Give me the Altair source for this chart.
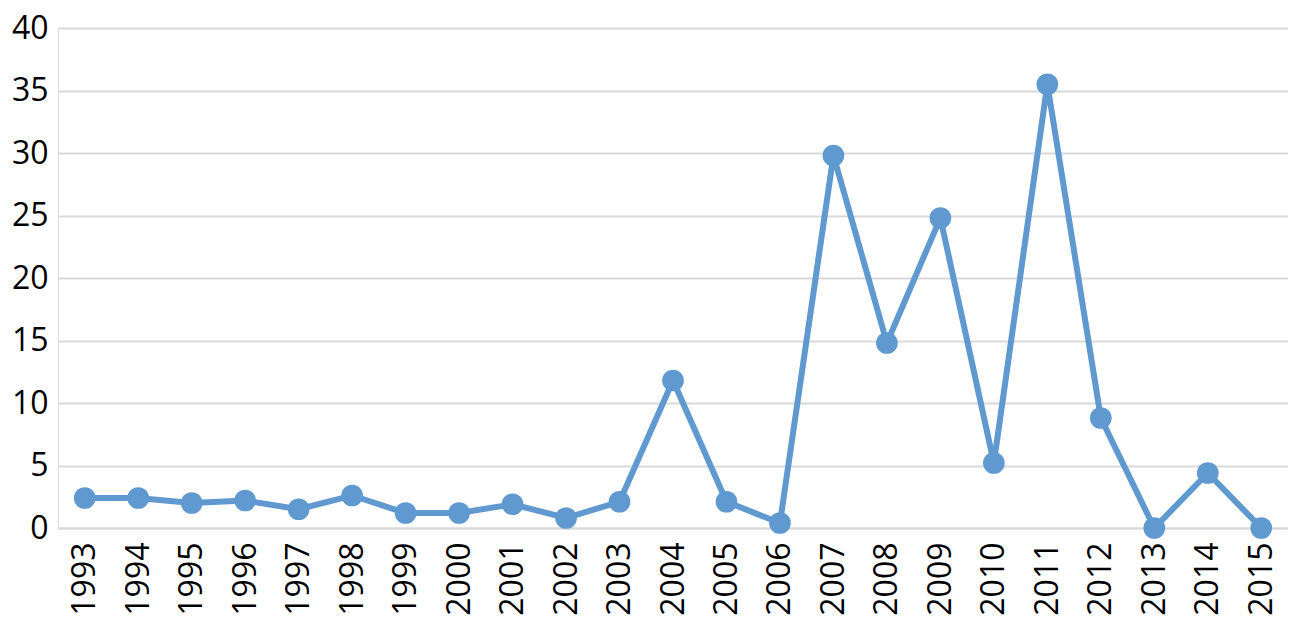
import altair as alt
import pandas as pd

years = [str(y) for y in range(1993, 2016)]
values = [2.4, 2.4, 2.0, 2.2, 1.5, 2.6, 1.2, 1.2, 1.9, 0.8, 2.1, 11.8,
          2.1, 0.4, 29.8, 14.8, 24.8, 5.2, 35.5, 8.8, 0.0, 4.4, 0.0]
y_ticks = [0, 5, 10, 15, 20, 25, 30, 35, 40]

df = pd.DataFrame({"year": years, "value": values})

color = "#5f99cf"
font = "Open Sans"

base = alt.Chart(df).encode(
    x=alt.X("year:O", sort=years,
            scale=alt.Scale(padding=0.5),
            axis=alt.Axis(title=None, labelAngle=270, labelFontSize=32,
                          labelFont=font, labelColor="#000000",
                          labelPadding=14, ticks=False, domain=True,
                          domainColor="#d9d9d9", domainWidth=2,
                          labelAlign="right", labelBaseline="middle")),
    y=alt.Y("value:Q",
            scale=alt.Scale(domain=[0, 40], nice=False),
            axis=alt.Axis(title=None, values=y_ticks, labelFontSize=32,
                          labelFont=font, labelColor="#000000",
                          labelPadding=10, ticks=False, domain=False,
                          grid=True, gridColor="#d9d9d9", gridWidth=2)),
)

line = base.mark_line(color=color, strokeWidth=6)
points = base.mark_point(filled=True, color=color, size=470, opacity=1, shape="circle")

chart = (line + points).properties(
    width=1230, height=500,
    padding={"top": 4, "left": 3, "right": 0, "bottom": 0}
).configure_view(strokeWidth=0).configure(background="white")

chart.save("out.html", embed_options={"renderer": "svg", "actions": False})
